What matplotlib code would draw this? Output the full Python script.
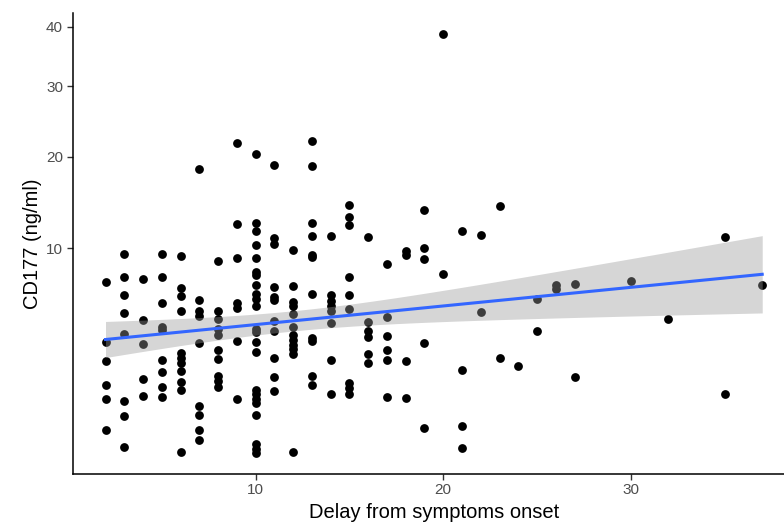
import numpy as np
import matplotlib
matplotlib.use("Agg")
from matplotlib import pyplot as plt

plt.rcParams["font.family"] = ["Liberation Sans", "DejaVu Sans"]

# Delay from symptoms onset (days) and CD177 concentration (ng/ml), one row per day
delay = (
    [2] * 6 + [3] * 8 + [4] * 5 + [5] * 9 + [6] * 11 + [7] * 9 + [8] * 10 + [9] * 7
    + [10] * 23 + [11] * 11 + [12] * 12 + [13] * 11 + [14] * 8 + [15] * 9 + [16] * 6
    + [17] * 6 + [18] * 4 + [19] * 5 + [20] * 2 + [21] * 4 + [22] * 2 + [23] * 2
    + [24] * 1 + [25] * 2 + [26] * 2 + [27] * 2 + [30] * 1 + [32] * 1 + [35] * 2 + [37] * 1
)
cd177 = [
    7.15, 3.30, 2.39, 1.45, 1.00, 0.32,                                 # 2
    9.45, 7.59, 6.24, 4.98, 3.72, 0.95, 0.58, 0.10,                     # 3
    7.44, 4.54, 3.19, 1.68, 1.10,                                       # 4
    9.45, 7.57, 5.62, 4.15, 3.96, 2.45, 1.95, 1.40, 1.07,               # 5
    9.31, 6.73, 6.15, 5.11, 2.76, 2.54, 2.32, 1.97, 1.55, 1.28, 0.064,  # 6
    18.43, 5.89, 5.15, 4.80, 3.24, 0.82, 0.61, 0.31, 0.17,              # 7
    8.84, 5.13, 4.59, 4.05, 3.69, 2.91, 2.50, 1.77, 1.58, 1.37,         # 8
    21.76, 12.29, 9.16, 5.66, 5.35, 3.38, 1.01,                         # 9
    20.32, 12.42, 11.59, 10.26, 9.16, 7.98, 7.74, 6.92, 6.31, 5.95,     # 10
    5.44, 4.02, 3.83, 3.31, 2.82, 1.28, 1.15, 1.02, 0.89, 0.61,
    0.13, 0.086, 0.057,
    18.93, 10.94, 10.38, 6.80, 6.08, 5.87, 4.48, 3.90, 2.53, 1.73, 1.26,        # 11
    9.87, 6.88, 5.75, 5.48, 4.90, 4.13, 3.68, 3.41, 3.15, 2.94, 2.74, 0.061,    # 12
    22.02, 18.75, 12.41, 11.16, 9.42, 9.19, 6.31, 3.54, 3.39, 1.77, 1.46,       # 13
    11.16, 6.24, 5.77, 5.44, 5.11, 4.39, 2.42, 1.17,                    # 14
    14.32, 12.98, 12.21, 7.57, 6.24, 5.26, 1.53, 1.36, 1.15,            # 15
    11.00, 4.42, 3.90, 3.59, 2.70, 2.32,                                # 16
    8.63, 4.73, 3.61, 2.90, 2.44, 1.06,                                 # 17
    9.78, 9.42, 2.41, 1.04,                                             # 18
    13.78, 10.05, 9.02, 3.27, 0.34,                                     # 19
    38.75, 7.81,                                                        # 20
    11.64, 2.03, 0.38, 0.096,                                           # 21
    11.19, 5.04,                                                        # 22
    14.13, 2.53,                                                        # 23
    2.19,                                                               # 24
    5.91, 3.90,                                                         # 25
    6.92, 6.68,                                                         # 26
    7.05, 1.73,                                                         # 27
    7.26,                                                               # 30
    4.63,                                                               # 32
    11.00, 1.16,                                                        # 35
    6.98,                                                               # 37
]
y_ticks = [10, 20, 30, 40]
x_ticks = [10, 20, 30]

x = np.array(delay, dtype=float)
y = np.array(cd177, dtype=float)


def sqrt_fwd(v):
    v = np.asarray(v, dtype=float)
    return np.sign(v) * np.sqrt(np.abs(v))


def sqrt_inv(s):
    s = np.asarray(s, dtype=float)
    return np.sign(s) * s ** 2


# linear fit on the sqrt scale with a 95% confidence band
s = sqrt_fwd(y)
n = len(x)
b, a = np.polyfit(x, s, 1)
resid = s - (a + b * x)
sigma = np.sqrt(np.sum(resid ** 2) / (n - 2))
sxx = np.sum((x - x.mean()) ** 2)
t_crit = 1.973
xg = np.linspace(x.min(), x.max(), 80)
fit = a + b * xg
se = sigma * np.sqrt(1 / n + (xg - x.mean()) ** 2 / sxx)
lo, hi = fit - t_crit * se, fit + t_crit * se

fig = plt.figure(figsize=(7.84, 5.22), dpi=100)
ax = fig.add_axes([0.0927, 0.0929, 1.0141 - 0.0927, 0.9751 - 0.0929])
ax.set_yscale("function", functions=(sqrt_fwd, sqrt_inv))

ax.scatter(x, y, s=40, color="black", linewidths=0, zorder=2)
ax.fill_between(xg, sqrt_inv(lo), sqrt_inv(hi), color="#999999", alpha=0.4,
                linewidth=0, zorder=3)
ax.plot(xg, sqrt_inv(fit), color="#3366FF", lw=2.2, zorder=4)

# ggplot-like 5% expansion
xr = x.max() - x.min()
ax.set_xlim(x.min() - 0.05 * xr, x.max() + 0.05 * xr)
sr = s.max() - s.min()
ax.set_ylim(sqrt_inv(s.min() - 0.05 * sr), sqrt_inv(s.max() + 0.05 * sr))

ax.set_xticks(x_ticks)
ax.set_yticks(y_ticks)
ax.tick_params(axis="both", colors="#333333", labelcolor="#4D4D4D",
               labelsize=11, length=4, width=1)
ax.tick_params(axis="x", pad=3)
ax.tick_params(axis="y", pad=3)

for side in ["top", "right"]:
    ax.spines[side].set_visible(False)
for side in ["left", "bottom"]:
    ax.spines[side].set_linewidth(1.1)
    ax.spines[side].set_color("black")

ax.set_xlabel("Delay from symptoms onset", fontsize=14.5, labelpad=4)
ax.set_ylabel("CD177 (ng/ml)", fontsize=14.5, labelpad=3)

fig.savefig("out.png", dpi=100)
